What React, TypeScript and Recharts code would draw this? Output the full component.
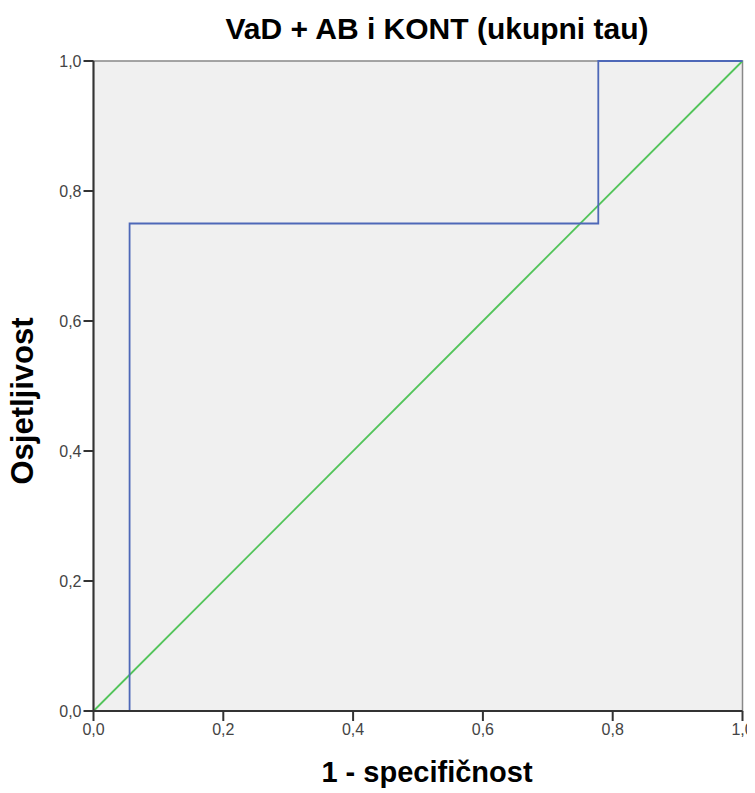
import { ComposedChart, Line, XAxis, YAxis, ReferenceArea } from "recharts";

const rocX = [0, 0.0556, 0.0556, 0.7778, 0.7778, 1];
const rocY = [0, 0, 0.75, 0.75, 1, 1];
const refX = [0, 1];
const refY = [0, 1];
const ticks = [0, 0.2, 0.4, 0.6, 0.8, 1];

const rocData = rocX.map((x, i) => ({ x, roc: rocY[i] }));
const refData = refX.map((x, i) => ({ x, ref: refY[i] }));

const fmt = (v: number) => v.toFixed(1).replace(".", ",");
const font = "'Liberation Sans', Arial, sans-serif";

export default function App() {
	return (
		<div style={{ position: "relative", width: 747, height: 785, fontFamily: font }}>
			<div
				style={{
					position: "absolute",
					top: 4,
					left: 0,
					width: 858,
					textAlign: "center",
					fontWeight: "bold",
					fontSize: 30,
					color: "#000",
					whiteSpace: "nowrap",
				}}
			>
				VaD + AB i KONT (ukupni tau)
			</div>
			<div
				style={{
					position: "absolute",
					top: 748,
					left: 0,
					width: 838,
					textAlign: "center",
					fontWeight: "bold",
					fontSize: 29,
					color: "#000",
					whiteSpace: "nowrap",
				}}
			>
				1 - specifičnost
			</div>
			<div
				style={{
					position: "absolute",
					top: 393,
					left: 15,
					width: 300,
					textAlign: "center",
					fontWeight: "bold",
					fontSize: 31,
					color: "#000",
					whiteSpace: "nowrap",
					transform: "translate(-50%, -50%) rotate(-90deg)",
				}}
			>
				Osjetljivost
			</div>
			<ComposedChart
				width={747}
				height={785}
				margin={{ top: 53, right: 12.5, bottom: 52, left: 0 }}
			>
				<XAxis
					type="number"
					dataKey="x"
					domain={[0, 1]}
					ticks={ticks}
					tickFormatter={fmt}
					allowDuplicatedCategory={false}
					height={30}
					stroke="#333"
					strokeWidth={2}
					tickSize={10}
					tickMargin={3}
					tick={{ fill: "#444", fontSize: 16, fontFamily: font }}
				/>
				<YAxis
					type="number"
					domain={[0, 1]}
					ticks={ticks}
					tickFormatter={fmt}
					width={85.5}
					stroke="#333"
					strokeWidth={2}
					tickSize={10}
					tickMargin={2}
					tick={{ fill: "#444", fontSize: 16, fontFamily: font }}
				/>
				<ReferenceArea x1={0} x2={1} y1={0} y2={1} fill="#f0f0f0" fillOpacity={1} stroke="#888" strokeWidth={1.5} />
				<Line
					data={refData}
					dataKey="ref"
					type="linear"
					stroke="#52c45a"
					strokeWidth={1.8}
					dot={false}
					isAnimationActive={false}
				/>
				<Line
					data={rocData}
					dataKey="roc"
					type="linear"
					stroke="#4e68b8"
					strokeWidth={1.8}
					dot={false}
					isAnimationActive={false}
				/>
			</ComposedChart>
		</div>
	);
}
